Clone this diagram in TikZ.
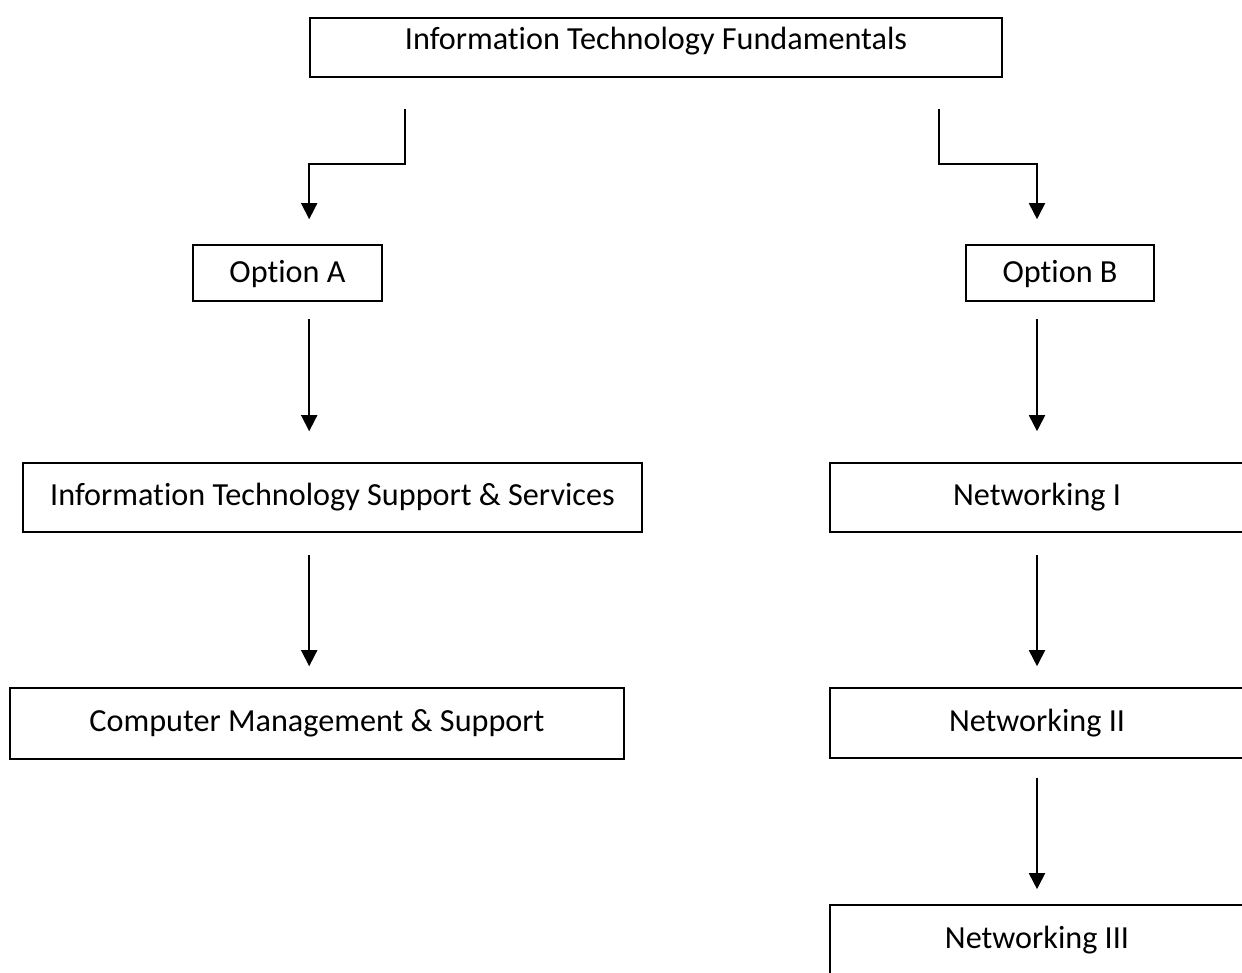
\documentclass[tikz,border=0pt]{standalone}
\usepackage{fontspec}
\setmainfont{Carlito}[Ligatures={NoCommon}]
\usetikzlibrary{arrows.meta}
\tikzset{
	box/.style={draw=black, line width=0.8pt, inner sep=0pt, font=\fontsize{16.1}{19}\selectfont},
	flowarrow/.style={line width=0.9pt, -{Triangle[width=8pt,length=8pt]}}
}

\begin{document}
\begin{tikzpicture}[x=0.5pt, y=-0.5pt]
			%%%%% START %%%%%
			
			\useasboundingbox (0, 0) rectangle (1242, 973);
			\clip (0, 0) rectangle (1242, 973);
			
			\node[box, minimum width=346pt, minimum height=29.5pt, text depth=9pt] (top) at (656, 47.5) {Information Technology Fundamentals};
			
			\node[box, minimum width=94.5pt, minimum height=28pt, text depth=1.5pt] (optA) at (287.5, 273) {Option A};
			\node[box, minimum width=94pt, minimum height=28pt, text depth=1.5pt] (optB) at (1060, 273) {Option B};
			
			\node[box, minimum width=309.5pt, minimum height=34.5pt] (itss) at (332.5, 497.5) {Information Technology Support \& Services};
			\node[box, minimum width=307pt, minimum height=35.5pt] (cms) at (317, 723.5) {Computer Management \& Support};
			
			\node[box, minimum width=207pt, minimum height=34.5pt] (net1) at (1037, 497.5) {Networking I};
			\node[box, minimum width=207pt, minimum height=35pt] (net2) at (1037, 723) {Networking II};
			\node[box, minimum width=207pt, minimum height=35pt] (net3) at (1037, 940) {Networking III};
			
			% split below the top course
			\draw[flowarrow, shorten <=15.5pt, shorten >=12.5pt] ([xshift=48pt]top.south west) -- ++(0, 86) -| (optA.north -| top.south west);
			\draw[flowarrow, shorten <=15.5pt, shorten >=12.5pt] ([xshift=315pt]top.south west) -- ++(0, 86) -| (optB.north -| net1.north);
			
			% option A
			\draw[flowarrow, shorten <=8.5pt, shorten >=15.5pt] (optA.south -| top.south west) -- (itss.north -| top.south west);
			\draw[flowarrow, shorten <=11pt, shorten >=10.5pt] (itss.south -| top.south west) -- (cms.north -| top.south west);
			
			% option B
			\draw[flowarrow, shorten <=8.5pt, shorten >=15.5pt] (optB.south -| net1.north) -- (net1.north);
			\draw[flowarrow, shorten <=11pt, shorten >=10.5pt] (net1.south) -- (net2.north);
			\draw[flowarrow, shorten <=9.5pt, shorten >=7.5pt] (net2.south) -- (net3.north);
			
			%%%%% END %%%%%
		\end{tikzpicture}
\end{document}
